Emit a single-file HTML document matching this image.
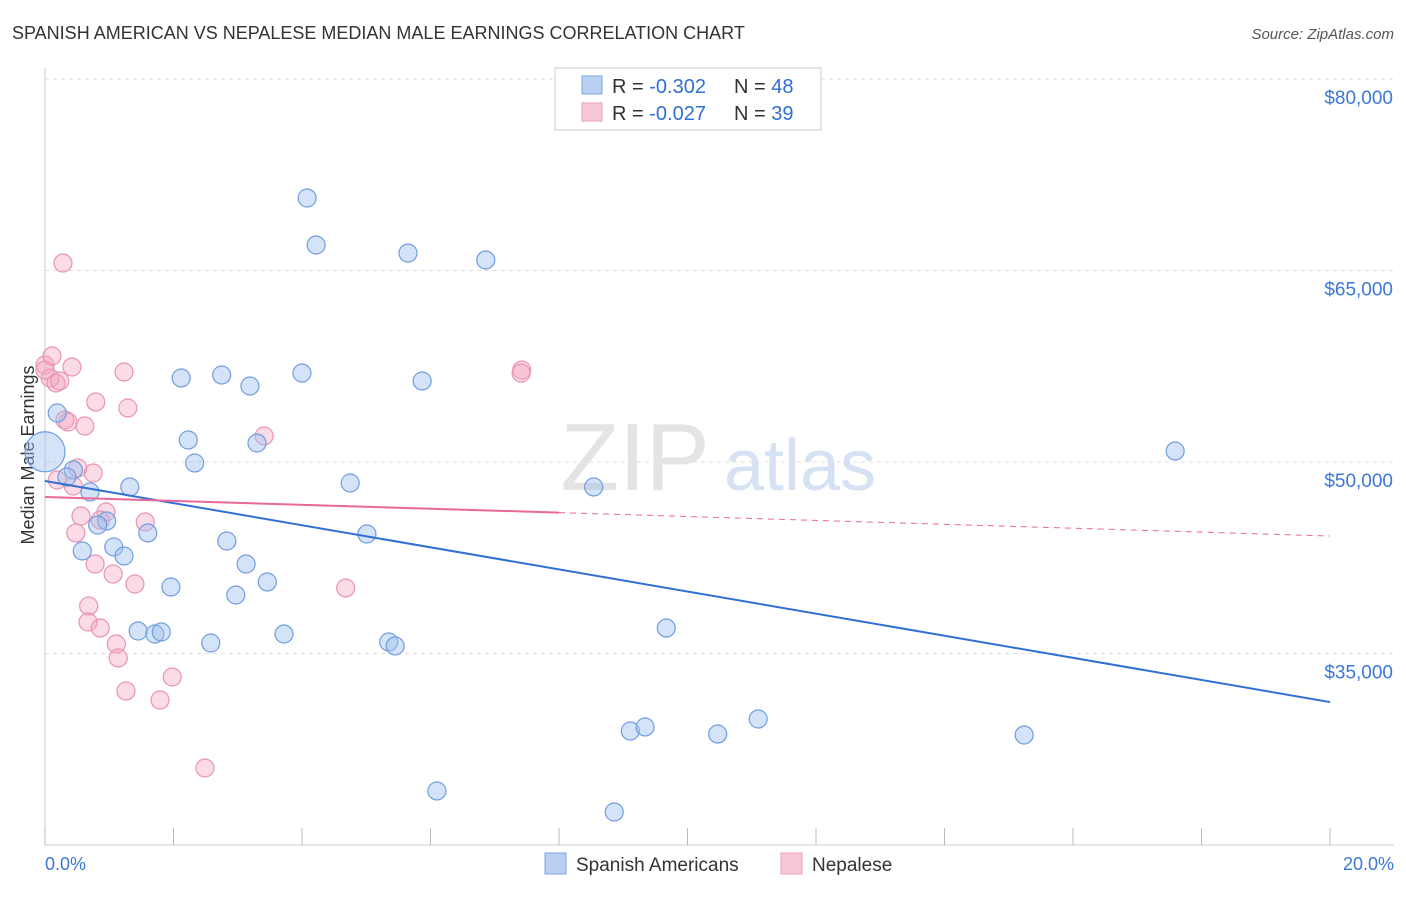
<!DOCTYPE html>
<html><head><meta charset="utf-8"><style>
body{margin:0;background:#fff;font-family:"Liberation Sans",sans-serif;}
svg text{font-family:"Liberation Sans",sans-serif;}
</style></head><body>
<svg id="chart" width="1406" height="892">
<text x="12" y="39" font-size="18" fill="#333">SPANISH AMERICAN VS NEPALESE MEDIAN MALE EARNINGS CORRELATION CHART</text>
<text x="1394" y="39" font-size="15" fill="#555" font-style="italic" text-anchor="end">Source: ZipAtlas.com</text>
<text x="34" y="455" font-size="18" fill="#333" transform="rotate(-90 34 455)" text-anchor="middle">Median Male Earnings</text>
<g id="grid"></g>
<text x="635" y="490" font-size="96" fill="#e4e4e4" font-family="Liberation Serif" text-anchor="middle">ZIP</text>
<text x="800" y="490" font-size="72" fill="#d5e2f4" text-anchor="middle">atlas</text>
<g id="marks"></g>
<g>
<rect x="555" y="68" width="266" height="62" fill="#fff" stroke="#ccc"/>
<rect x="582" y="76" width="20" height="18" fill="#b9d0f3" stroke="#7ea6e0"/>
<text x="612" y="93" font-size="20" fill="#333">R = <tspan fill="#2f6fd6">-0.302</tspan></text>
<text x="734" y="93" font-size="20" fill="#333">N = <tspan fill="#2f6fd6">48</tspan></text>
<rect x="582" y="103" width="20" height="18" fill="#f9c8d8" stroke="#eaa0b8"/>
<text x="612" y="120" font-size="20" fill="#333">R = <tspan fill="#2f6fd6">-0.027</tspan></text>
<text x="734" y="120" font-size="20" fill="#333">N = <tspan fill="#2f6fd6">39</tspan></text>
</g>
<g>
<rect x="545" y="853" width="21" height="21" fill="#b9d0f3" stroke="#7ea6e0"/>
<text x="576" y="871" font-size="19" fill="#333">Spanish Americans</text>
<rect x="781" y="853" width="21" height="21" fill="#f9c8d8" stroke="#eaa0b8"/>
<text x="812" y="871" font-size="19" fill="#333">Nepalese</text>
</g>
<text x="45" y="870" font-size="18" fill="#3b78d8">0.0%</text>
<text x="1394" y="870" font-size="18" fill="#3b78d8" text-anchor="end">20.0%</text>
</svg>
<script>
const yTicks=[80000,65000,50000,35000];
const yTickLabels=["$80,000","$65,000","$50,000","$35,000"];
const xTicks=[0,2,4,6,8,10,12,14,16,18,20];
const bluePx=[[307,198],[316,245],[408,253],[486,260],[181,378],[222,375],[250,386],[302,373],[422,381],[57,413],[188,440],[257,443],[195,463],[1175,451],[73,470],[67,477],[350,483],[130,487],[90,492],[594,487],[107,521],[98,525],[148,533],[367,534],[227,541],[82,551],[114,547],[124,556],[246,564],[267,582],[171,587],[236,595],[666,628],[138,631],[155,634],[161,632],[211,643],[284,634],[389,642],[395,646],[630,731],[645,727],[718,734],[758,719],[1024,735],[437,791],[614,812]];
const pinkPx=[[63,263],[45,365],[72,367],[50,378],[56,383],[60,381],[124,372],[522,370],[521,373],[96,402],[128,408],[65,420],[85,426],[264,436],[93,473],[57,480],[73,486],[81,516],[106,512],[145,522],[76,533],[100,520],[95,564],[113,574],[135,584],[346,588],[89,606],[88,622],[100,628],[116,644],[118,658],[126,691],[160,700],[172,677],[205,768],[45,370],[52,356],[68,422],[78,468]];
const blueX=bluePx.map(p=>+((p[0]-45)/64.25).toFixed(2));
const blueY=bluePx.map(p=>Math.round(80000-(p[1]-79)*15000/191.5));
const pinkX=pinkPx.map(p=>+((p[0]-45)/64.25).toFixed(2));
const pinkY=pinkPx.map(p=>Math.round(80000-(p[1]-79)*15000/191.5));
const blueTrend=[48511,31197];
const pinkTrend=[47258,44203];
const X=v=>45+v*64.25;
const Y=v=>79+(80000-v)*191.5/15000;
const NS="http://www.w3.org/2000/svg";
function mk(t,a,p){const e=document.createElementNS(NS,t);for(const k in a)e.setAttribute(k,a[k]);p.appendChild(e);return e;}
const grid=document.getElementById('grid'),marks=document.getElementById('marks');
mk('line',{x1:45,y1:68,x2:45,y2:845,stroke:'#ccc'},grid);
mk('line',{x1:45,y1:845,x2:1394,y2:845,stroke:'#ccc'},grid);
yTicks.forEach((v,i)=>{
 const l=mk('line',{x1:45,y1:Y(v),x2:1394,y2:Y(v),stroke:'#ddd','stroke-dasharray':'4,4'},grid);
 
 
 const t=mk('text',{x:1393,y:Y(v)+25,'font-size':19,fill:'#3b78d8','text-anchor':'end'},grid);
 t.textContent=yTickLabels[i];
 
 
});
xTicks.forEach(v=>{
 const l=mk('line',{x1:X(v),y1:828,x2:X(v),y2:845,stroke:'#bbb'},grid);
 
 
});
pinkX.forEach((x,i)=>{
 const c=mk('circle',{cx:X(x),cy:Y(pinkY[i]),r:9,fill:'rgba(245,165,192,0.4)',stroke:'#e993b2','stroke-width':1.2},marks);
 
 
});
blueX.forEach((x,i)=>{
 const c=mk('circle',{cx:X(x),cy:Y(blueY[i]),r:9,fill:'rgba(160,192,240,0.45)',stroke:'#6f9de0','stroke-width':1.2},marks);
 
 
});
const big=mk('circle',{cx:X(0),cy:Y(50800),r:20,fill:'rgba(160,192,240,0.45)',stroke:'#6f9de0','stroke-width':1.2},marks);


const bl=mk('line',{x1:X(0),y1:Y(blueTrend[0]),x2:X(20),y2:Y(blueTrend[1]),stroke:'#2f6fd6','stroke-width':2},marks);


const pm=pinkTrend[0]+(pinkTrend[1]-pinkTrend[0])*0.4;
const pl=mk('line',{x1:X(0),y1:Y(pinkTrend[0]),x2:X(8),y2:Y(pm),stroke:'#e8689a','stroke-width':2},marks);


const pd=mk('line',{x1:X(8),y1:Y(pm),x2:X(20),y2:Y(pinkTrend[1]),stroke:'#e8689a','stroke-width':1,'stroke-dasharray':'6,5'},marks);


</script>
</body></html>
